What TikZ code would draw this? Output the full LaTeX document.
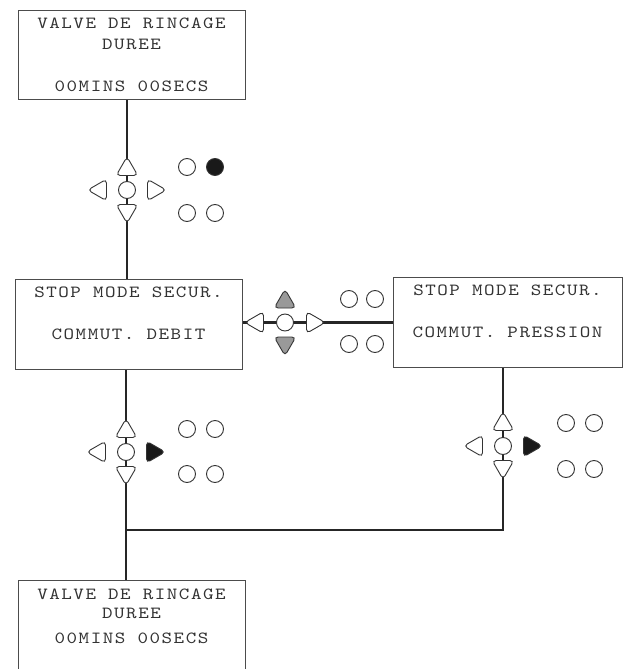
\documentclass[tikz,border=0pt]{standalone}
\usepackage{fontspec}
\usetikzlibrary{positioning,shapes.geometric,backgrounds}
\newfontfamily\panelfont{lmmono10-regular.otf}[FakeStretch=1.18, LetterSpace=9]

\tikzset{
  panel/.style={draw=black!70, line width=0.8pt, inner sep=0pt, align=center, text=black!80,
    font=\panelfont\fontsize{17}{21}\selectfont},
  link/.style={draw=black!85, line width=2.8pt},
  btn/.style={circle, draw=black!80, line width=0.9pt, fill=white, minimum size=17pt, inner sep=0pt, outer sep=0pt},
  lit/.style={btn, fill=black!90},
  key/.style={regular polygon, regular polygon sides=3, draw=black!80, line width=0.9pt, fill=white,
    minimum size=25pt, inner sep=0pt, outer sep=0pt, rounded corners=4pt},
  keyup/.style={key},
  keydown/.style={key, shape border rotate=180},
  keyleft/.style={key, shape border rotate=90},
  keyright/.style={key, shape border rotate=270},
  grey/.style={fill=black!40},
  dark/.style={fill=black!90}
}

\begin{document}
\begin{tikzpicture}[x=1pt, y=-1pt]
\useasboundingbox (0,0) rectangle (624,669);

% screens
\node[panel, minimum width=227pt, minimum height=89pt] (rinse) at (131.5,54.5)
  {VALVE DE RINCAGE\\DUREE\\[21pt]00MINS 00SECS};
\node[panel, minimum width=227pt, minimum height=90pt] (flow) at (128.5,324)
  {STOP MODE SECUR.\\[21pt]COMMUT. DEBIT\\\mbox{}};
\node[panel, minimum width=229pt, minimum height=90pt] (pressure) at (507.5,322)
  {STOP MODE SECUR.\\[21pt]COMMUT. PRESSION\\\mbox{}};
\node[panel, minimum width=227pt, minimum height=90pt] (rinse2) at (131.5,625)
  {VALVE DE RINCAGE\\[-2pt]DUREE\\[4pt]00MINS 00SECS\\[-3pt]\mbox{}};

% keypad 1
\node[btn] (pad1) at (127,190) {};
\node[keyup, above=6pt of pad1] (pad1u) {};
\node[keydown, below=6pt of pad1] (pad1d) {};
\node[keyleft, left=12pt of pad1] (pad1l) {};
\node[keyright, right=12pt of pad1] (pad1r) {};
\foreach \x/\y/\s [count=\n] in {187/167/btn, 215/167/lit, 187/213/btn, 215/213/btn}
  \node[\s] (led1\n) at (\x,\y) {};

% keypad 2
\node[btn] (pad2) at (285,322.5) {};
\node[keyup, grey, above=6pt of pad2] (pad2u) {};
\node[keydown, grey, below=6pt of pad2] (pad2d) {};
\node[keyleft, left=13pt of pad2] (pad2l) {};
\node[keyright, right=13pt of pad2] (pad2r) {};
\foreach \x/\y [count=\n] in {349/299, 375/299, 349/344, 375/344}
  \node[btn] (led2\n) at (\x,\y) {};

% keypad 3
\node[btn] (pad3) at (126,452) {};
\node[keyup, above=6pt of pad3] (pad3u) {};
\node[keydown, below=6pt of pad3] (pad3d) {};
\node[keyleft, left=12pt of pad3] (pad3l) {};
\node[keyright, dark, right=12pt of pad3] (pad3r) {};
\foreach \x/\y [count=\n] in {187/429, 215/429, 187/474, 215/474}
  \node[btn] (led3\n) at (\x,\y) {};

% keypad 4
\node[btn] (pad4) at (503,446) {};
\node[keyup, above=7pt of pad4] (pad4u) {};
\node[keydown, below=6pt of pad4] (pad4d) {};
\node[keyleft, left=12pt of pad4] (pad4l) {};
\node[keyright, dark, right=12pt of pad4] (pad4r) {};
\foreach \x/\y [count=\n] in {566/423, 594/423, 566/469, 594/469}
  \node[btn] (led4\n) at (\x,\y) {};

\coordinate (join) at (126,530);

\begin{scope}[on background layer]
\draw[link] (rinse.south -| pad1) -- (flow.north -| pad1);
\draw[link] (flow.east |- pad2) -- (pressure.west |- pad2);
\draw[link] (flow.south -| pad3) -- (rinse2.north -| pad3);
\draw[link] (pressure.south -| pad4) |- (join);
\end{scope}
\end{tikzpicture}
\end{document}
